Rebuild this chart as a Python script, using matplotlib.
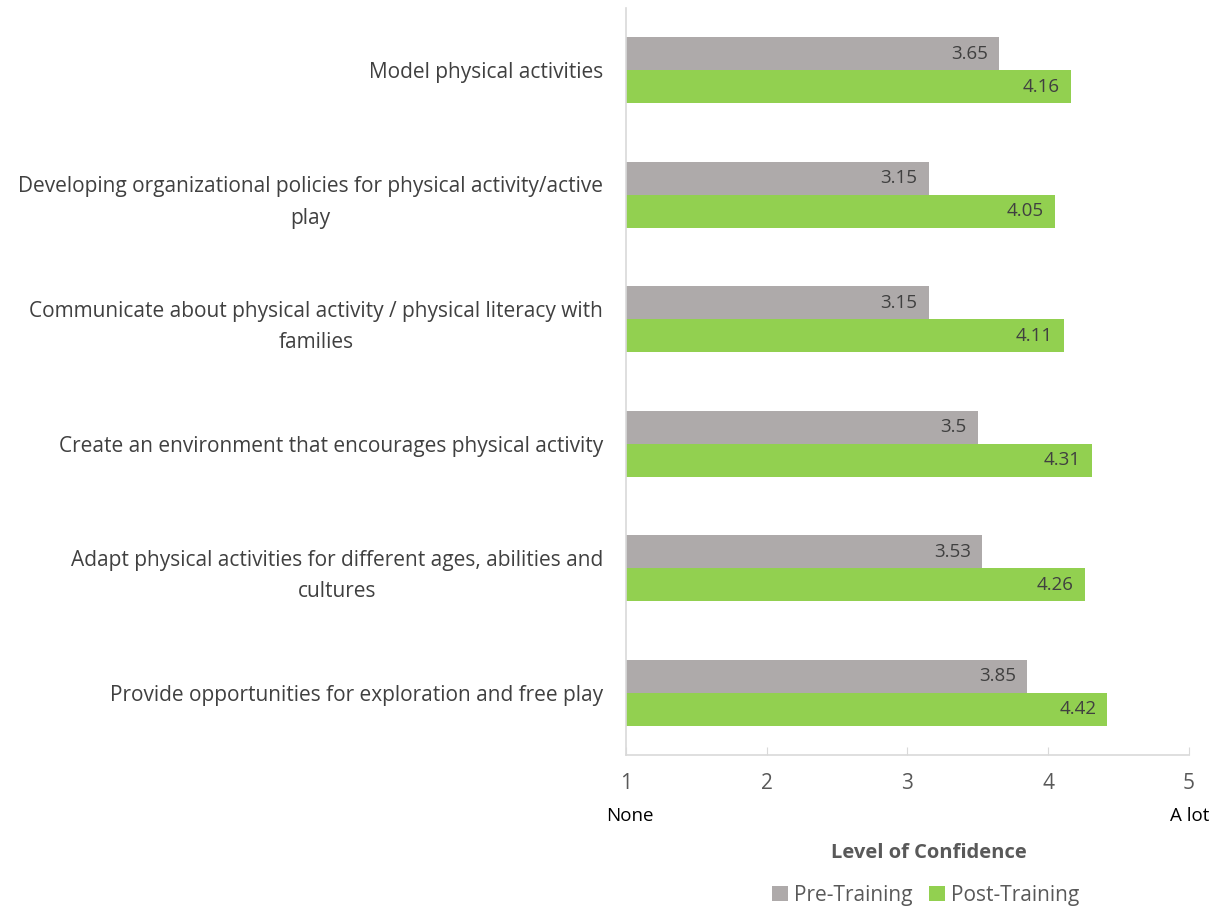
import matplotlib.pyplot as plt
import numpy as np

# ------------------------------- data ---------------------------------------
categories = [
    "Model physical activities",
    "Developing organizational policies for physical activity/active\nplay",
    "Communicate about physical activity / physical literacy with\nfamilies",
    "Create an environment that encourages physical activity",
    "Adapt physical activities for different ages, abilities and\ncultures",
    "Provide opportunities for exploration and free play",
]
pre_training = [3.65, 3.15, 3.15, 3.5, 3.53, 3.85]
post_training = [4.16, 4.05, 4.11, 4.31, 4.26, 4.42]
x_ticks = [1, 2, 3, 4, 5]

GREY = "#AEAAAA"
GREEN = "#92D050"
TEXT = "#404040"
AXIS_TEXT = "#595959"
LINE = "#D9D9D9"

plt.rcParams['font.family'] = ['Open Sans', 'DejaVu Sans']

fig = plt.figure(figsize=(12.18, 9.09), dpi=100)
ax = fig.add_axes([0.514, 0.1694, 0.462, 0.822])

# top category at the top of the chart
y = np.arange(len(categories))[::-1]
h = 0.265

bars_pre = ax.barh(y + h / 2, np.array(pre_training) - 1, left=1, height=h,
                   color=GREY, label="Pre-Training")
bars_post = ax.barh(y - h / 2, np.array(post_training) - 1, left=1, height=h,
                    color=GREEN, label="Post-Training")

# value labels inside the bar ends
for yy, vals in ((y + h / 2, pre_training), (y - h / 2, post_training)):
    for yi, v in zip(yy, vals):
        ax.annotate(f"{v:g}", xy=(v, yi), xytext=(-11, 0),
                    textcoords='offset pixels', ha='right', va='center',
                    fontsize=13.5, color=TEXT)

ax.set_xlim(1, 5)
ax.set_ylim(-0.5, len(categories) - 0.5)
ax.set_xticks(x_ticks)
ax.set_xticklabels([str(t) for t in x_ticks], fontsize=15, color=AXIS_TEXT)
ax.tick_params(axis='x', direction='in', length=6, color=LINE, pad=13)
ax.set_yticks(y)
ax.set_yticklabels(categories, fontsize=15, color=TEXT,
                   multialignment='center', linespacing=1.65)
ax.tick_params(axis='y', length=0, pad=16.5)

for side in ('top', 'right'):
    ax.spines[side].set_visible(False)
for side in ('left', 'bottom'):
    ax.spines[side].set_color(LINE)
    ax.spines[side].set_linewidth(1.2)

# end labels under the scale
ax.annotate("None", xy=(1, 0), xycoords=('data', 'axes fraction'),
            xytext=(4, -61), textcoords='offset pixels', ha='center',
            va='center', fontsize=13.5, color='black')
ax.annotate("A lot", xy=(5, 0), xycoords=('data', 'axes fraction'),
            xytext=(1, -61), textcoords='offset pixels', ha='center',
            va='center', fontsize=13.5, color='black')

fig.text(929 / 1218, 1 - 853 / 909, "Level of Confidence", ha='center',
         va='center', fontsize=14.5, fontweight='bold', color=AXIS_TEXT)

fig.legend(handles=[bars_pre, bars_post], loc='center',
           bbox_to_anchor=(926 / 1218, 1 - 895 / 909), ncol=2, frameon=False,
           fontsize=15, labelcolor=AXIS_TEXT, handlelength=0.75,
           handleheight=0.75, handletextpad=0.3, columnspacing=0.8)

fig.savefig("out.png", dpi=100)
